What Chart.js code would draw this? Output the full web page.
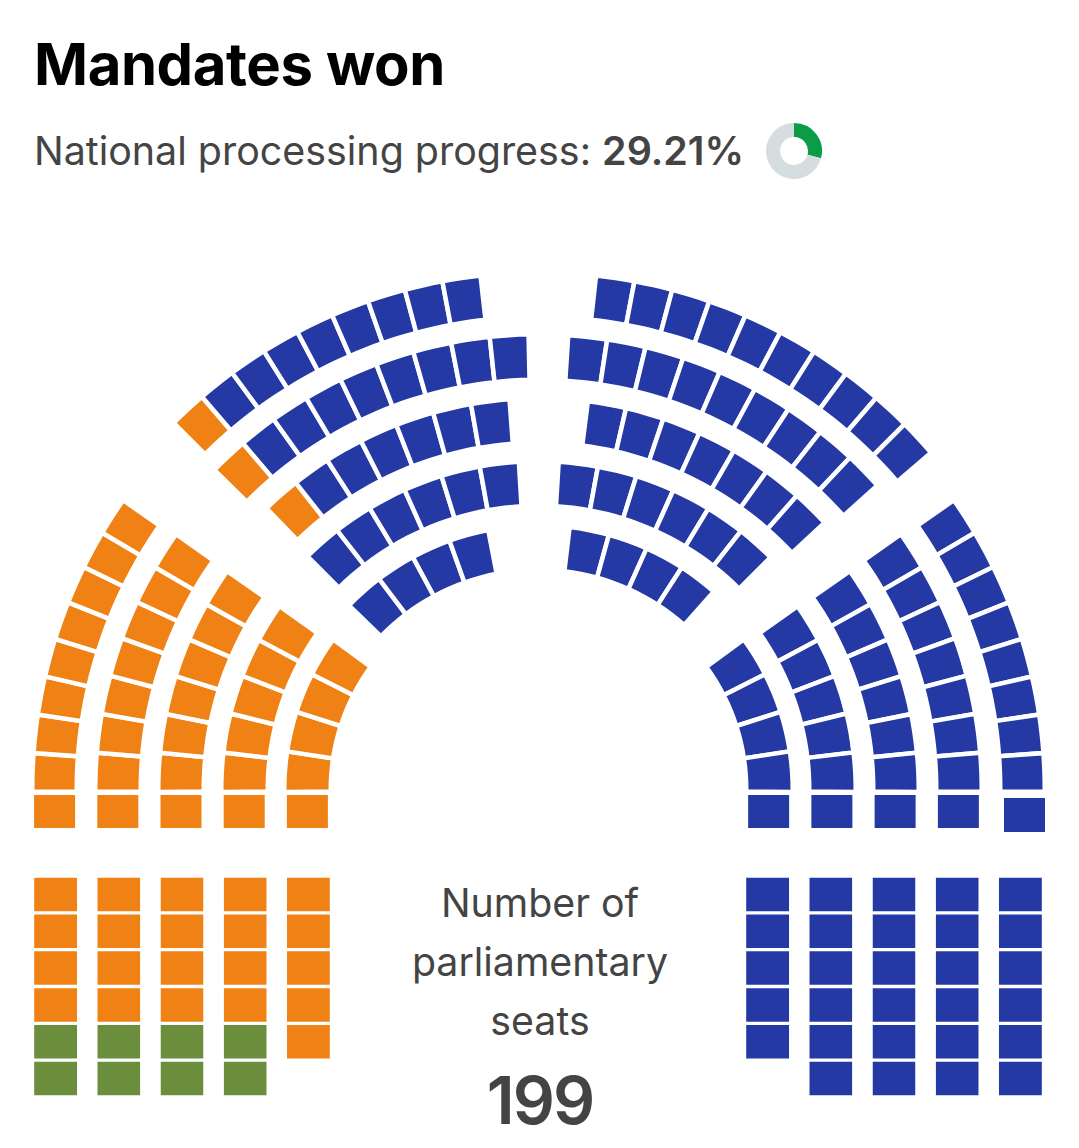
<!DOCTYPE html>
<html><head><meta charset="utf-8">
<script src="https://cdn.jsdelivr.net/npm/chart.js@4/dist/chart.umd.js"></script>
<style>
html,body{margin:0;padding:0;background:#fff;width:1079px;height:1148px;overflow:hidden}
#stage{position:relative;width:1079px;height:1148px;overflow:hidden;font-family:Inter,sans-serif}
#stage canvas{position:absolute}
.t{position:absolute;white-space:nowrap}
#title{left:34px;top:28px;font-size:58px;line-height:72px;font-weight:700;color:#000;letter-spacing:-0.4px}
#sub{left:34px;top:125px;font-size:39.4px;line-height:52px;color:#444;font-weight:400}
#sub b{font-weight:600}
.c{left:340px;width:400px;text-align:center;color:#444;font-size:39.3px;line-height:52px}
#big{font-size:66px;line-height:72px;font-weight:600;color:#444;letter-spacing:-2px}
</style></head><body>
<div id="stage">
<div class="t" id="title">Mandates won</div>
<div class="t" id="sub">National processing progress: <b>29.21%</b></div>
<div class="t c" style="top:877px">Number of</div>
<div class="t c" style="top:936px">parliamentary</div>
<div class="t c" style="top:995px">seats</div>
<div class="t c" id="big" style="top:1064px">199</div>
</div>
<script>
// ---- data: seats per row of each block ----
const progressValues = [29.21, 70.79];
const flankLeftOrange = [8, 7, 6, 5, 4];
const flankRightBlue  = [8, 7, 6, 5, 4];
const topLeftOrange   = [1, 1, 1, 0, 0];
const topLeftBlue     = [8, 8, 6, 6, 4];
const topRightBlue    = [10, 9, 7, 6, 4];
const frontLeftOrange = [1, 1, 1, 1, 1];
const frontRightBlue  = [1, 1, 1, 1];
const frontRightOdd   = [1];
const lowerLeftOrange = [4, 4, 4, 4, 5];
const lowerLeftGreen  = [2, 2, 2, 2, 0];
const lowerRightBlue  = [5, 6, 6, 6, 6];
const columnLabels    = ["1", "2", "3", "4", "5"];

// ---- styles and layout ----
const ORANGE = "#f08215", BLUE = "#2439a3", GREEN = "#6b8e3d";
const GAP = 4.5, HIDE = "rgba(0,0,0,0)", LEAD = 10;
const CX = 538.5;
const flankRadii = [[504,464],[441,400],[378,337],[315,273],[252,210]];
const topRadii   = [[515,475],[453,412],[389,349],[326,286],[262,222]];
const flankSweep = [34.6, 34.85, 34.7, 34.85, 35.6];
const topLeftSweep  = [[45.4,83.3],[44.9,88.45],[46.3,85.4],[45.7,86.15],[44.7,78.5]];
const topRightSweep = [[83.35,40.9],[85.95,42.2],[82.4,43.35],[86.05,45.45],[82.7,49]];

const stage = document.getElementById("stage");
function addCanvas(left, top, w, h){
  const c = document.createElement("canvas");
  c.style.left = left + "px"; c.style.top = top + "px";
  c.style.width = w + "px"; c.style.height = h + "px";
  c.width = w; c.height = h;
  stage.appendChild(c);
  return c;
}
const quiet = {legend:{display:false}, tooltip:{enabled:false}, title:{display:false}};

// one ring: list of runs {from,to,colors} in degrees clockwise from the left horizon
function ringDataset(runs, radii){
  const rm = (radii[0] + radii[1]) / 2;
  const g = GAP / rm * 180 / Math.PI;
  const data = [], bg = [], bw = [];
  let pos = -LEAD;
  const pushSpace = (to) => { data.push(Math.max(to - pos, 0.0001)); bg.push(HIDE); bw.push(0); pos = to; };
  runs.forEach(r => {
    const a = r.from - g/2, b = r.to + g/2, d = (b - a) / r.colors.length;
    pushSpace(a);
    r.colors.forEach(col => { data.push(d); bg.push(col); bw.push(GAP); });
    pos = b;
  });
  data.push(360 - LEAD - pos + 0); bg.push(HIDE); bw.push(0);
  return {data, backgroundColor:bg, borderColor:"#fff", borderWidth:bw, borderJoinStyle:"miter", weight:radii[0]-radii[1]+GAP};
}
function ringChart(radii, ringRuns, cy){
  const R = radii[0][0] + GAP/2;
  const inner = radii[radii.length-1][1] - GAP/2;
  const datasets = [];
  radii.forEach((r,i) => {
    datasets.push(ringDataset(ringRuns[i], r));
    if (i < radii.length-1) {
      datasets.push({data:[1], backgroundColor:HIDE, borderWidth:0, weight:(r[1]-GAP/2)-(radii[i+1][0]+GAP/2)});
    }
  });
  const size = Math.ceil(R)*2 + 1;
  const cv = addCanvas(Math.round(CX - size/2), Math.round(cy - size/2), size, size);
  new Chart(cv, {type:"doughnut", data:{datasets},
    options:{responsive:false, animation:false, devicePixelRatio:1, events:[],
      rotation:-90 - LEAD, radius:R, cutout:(inner/R*100)+"%",
      layout:{padding:0}, plugins:quiet}});
}
const rep = (n,c) => Array(n).fill(c);

ringChart(flankRadii, flankRadii.map((r,i) => [
  {from:0, to:flankSweep[i], colors:rep(flankLeftOrange[i],ORANGE)},
  {from:180-flankSweep[i], to:180, colors:rep(flankRightBlue[i],BLUE)}
]), 789.5);

ringChart(topRadii, topRadii.map((r,i) => [
  {from:topLeftSweep[i][0], to:topLeftSweep[i][1], colors:rep(topLeftOrange[i],ORANGE).concat(rep(topLeftBlue[i],BLUE))},
  {from:180-topRightSweep[i][0], to:180-topRightSweep[i][1], colors:rep(topRightBlue[i],BLUE)}
]), 789.5);

// straight seats as stacked bars
function seatBars(box, labels, datasets, rows, barW, pad){
  const cv = addCanvas(box[0], box[1], box[2], box[3]);
  const pitch = box[2] / labels.length;
  datasets.forEach(d => {
    d.barPercentage = barW / pitch; d.categoryPercentage = 1; d.stack = "s";
    d.borderColor = "#fff"; d.borderSkipped = false;
    d.borderWidth = {top:pad, bottom:pad, left:0, right:0};
  });
  new Chart(cv, {type:"bar", data:{labels, datasets},
    options:{responsive:false, animation:false, devicePixelRatio:1, events:[],
      layout:{padding:0}, plugins:quiet,
      scales:{x:{display:false, stacked:true},
              y:{display:false, stacked:true, reverse:true, min:0, max:rows}}}});
}
function rowsFrom(groups){
  // groups: [{counts, color}] stacked from the top; one dataset per row of seats
  const n = groups[0].counts.length;
  const total = Math.max(...groups[0].counts.map((_,i)=>groups.reduce((s,g)=>s+g.counts[i],0)));
  const out = [];
  for (let r=0;r<total;r++){
    const data=[], bg=[];
    for (let c=0;c<n;c++){
      let cum=0, col=null;
      for (const g of groups){ if (r>=cum && r<cum+g.counts[c]) col=g.color; cum+=g.counts[c]; }
      data.push(col?1:null); bg.push(col||HIDE);
    }
    out.push({data, backgroundColor:bg});
  }
  return out;
}
seatBars([24,876,316,221], columnLabels, rowsFrom([{counts:lowerLeftOrange,color:ORANGE},{counts:lowerLeftGreen,color:GREEN}]), 6, 43, 1.65);
seatBars([736,876,316,221], columnLabels, rowsFrom([{counts:lowerRightBlue,color:BLUE}]), 6, 43, 1.65);
seatBars([23,795,316,33], columnLabels, [{data:frontLeftOrange, backgroundColor:ORANGE}], 1, 41, 0);
seatBars([737,795,253,33], columnLabels.slice(0,4), [{data:frontRightBlue, backgroundColor:BLUE}], 1, 41, 0);
seatBars([1004,798,41,34], ["5"], [{data:frontRightOdd, backgroundColor:BLUE}], 1, 41, 0);

// progress ring
new Chart(addCanvas(764,121,60,60), {type:"doughnut",
  data:{labels:["Processed","Remaining"], datasets:[{data:progressValues, backgroundColor:["#0b9c48","#d5dde0"], borderWidth:0}]},
  options:{responsive:false, animation:false, devicePixelRatio:1, events:[], radius:28, cutout:"50%", layout:{padding:0}, plugins:quiet}});
</script>
</body></html>
